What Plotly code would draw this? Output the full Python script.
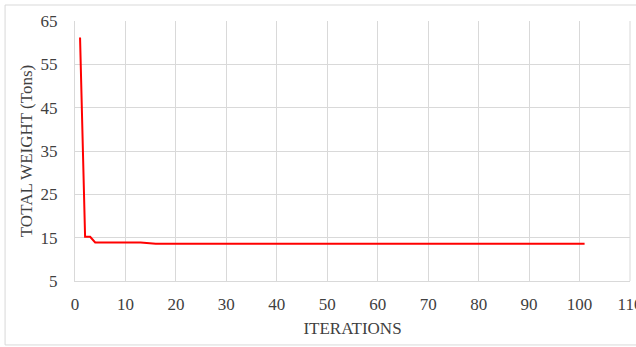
import plotly.graph_objects as go

# Change points of the convergence history (line is straight between them)
iterations = [1, 2, 3, 4, 13, 16, 101]
total_weight = [61.2, 15.2, 15.2, 13.9, 13.9, 13.6, 13.6]

x_ticks = [0, 10, 20, 30, 40, 50, 60, 70, 80, 90, 100, 110]
y_ticks = [5, 15, 25, 35, 45, 55, 65]

FONT = "Liberation Serif"
GRID = "#d9d9d9"
TICKFONT = dict(family=FONT, size=17, color="#404040")

fig = go.Figure()
fig.add_trace(go.Scatter(
    x=iterations, y=total_weight, mode="lines",
    line=dict(color="#ff0000", width=2),
    showlegend=False, hoverinfo="skip",
))

fig.update_layout(
    width=636, height=347,
    margin=dict(l=75, r=6, t=21, b=66, autoexpand=False),
    paper_bgcolor="white", plot_bgcolor="white",
    font=dict(family=FONT, size=17, color="#404040"),
    xaxis=dict(
        range=[0, 110], tickvals=x_ticks, ticktext=[str(v) for v in x_ticks],
        tickfont=TICKFONT,
        showgrid=True, gridcolor=GRID, gridwidth=1,
        showline=True, linecolor=GRID, linewidth=1, mirror=False,
        zeroline=False, ticks="", ticklabelstandoff=8,
        ticklabeloverflow="allow",
        title=dict(text="ITERATIONS", font=dict(size=17, family=FONT, color="#404040"), standoff=8),
        automargin=False,
    ),
    yaxis=dict(
        range=[5, 65], tickvals=y_ticks, ticktext=[str(v) for v in y_ticks],
        tickfont=TICKFONT,
        showgrid=True, gridcolor=GRID, gridwidth=1,
        showline=True, linecolor=GRID, linewidth=1,
        zeroline=False, ticks="", ticklabelstandoff=13,
        title=dict(text="TOTAL WEIGHT (Tons)", font=dict(size=17, family=FONT, color="#404040"), standoff=3),
        automargin=False,
    ),
    shapes=[dict(
        type="rect", xref="paper", yref="paper",
        x0=-0.126, x1=1.02, y0=-0.246, y1=1.0615,
        line=dict(color="#d9d9d9", width=1), fillcolor="rgba(0,0,0,0)", layer="below",
    ), dict(
        type="line", xref="paper", yref="paper",
        x0=1, x1=1, y0=0, y1=1, line=dict(color=GRID, width=1),
    )],
)

fig.write_html("out.html", post_script="document.body.style.margin='0';",
               config={"displayModeBar": False})
